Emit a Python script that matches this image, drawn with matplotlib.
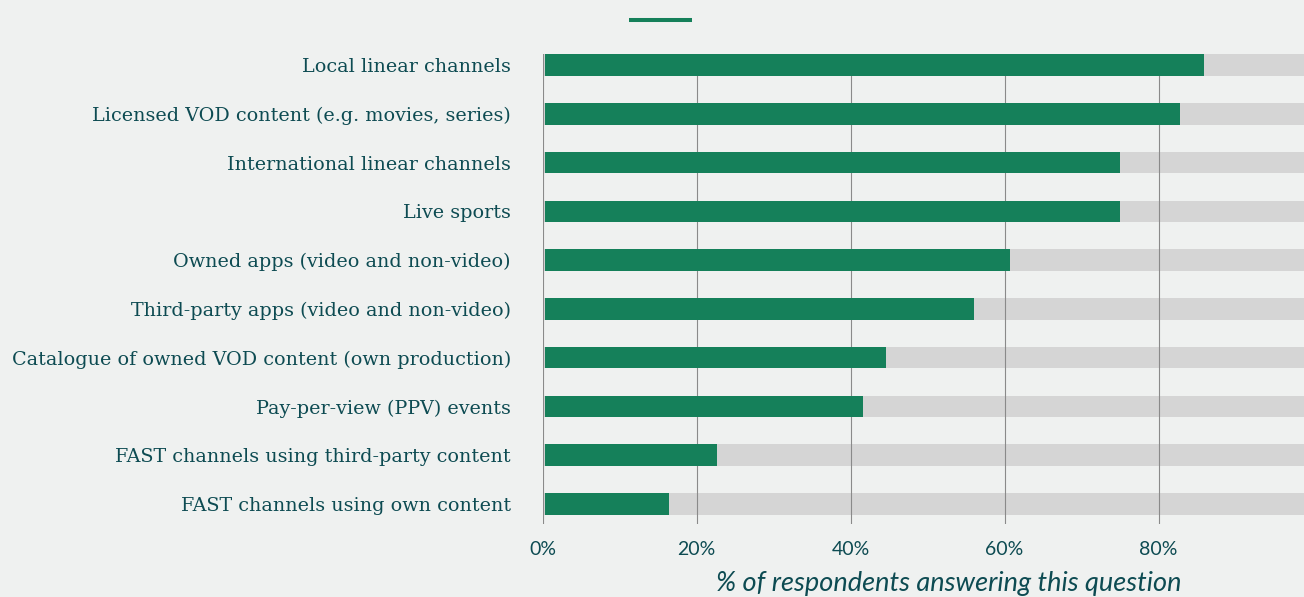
import numpy as np
import matplotlib.pyplot as plt
from matplotlib.lines import Line2D

# survey answers, top to bottom
categories = [
    "Local linear channels",
    "Licensed VOD content (e.g. movies, series)",
    "International linear channels",
    "Live sports",
    "Owned apps (video and non-video)",
    "Third-party apps (video and non-video)",
    "Catalogue of owned VOD content (own production)",
    "Pay-per-view (PPV) events",
    "FAST channels using third-party content",
    "FAST channels using own content",
]
share = [85.7, 82.5, 74.8, 74.8, 60.4, 55.8, 44.4, 41.4, 22.4, 16.1]
xticks = [0, 20, 40, 60, 80]
xticklabels = ["0%", "20%", "40%", "60%", "80%"]
xlabel = "% of respondents answering this question"

bg = '#eff1f0'
green = '#15805a'
track = '#d5d5d5'
ink = '#0d4b52'

fig = plt.figure(figsize=(13.04, 5.97), dpi=100)
fig.patch.set_facecolor(bg)
ax = fig.add_axes([0.4162, 0.1223, 0.5838, 0.7872])
ax.set_facecolor(bg)

y = np.arange(len(categories))
h = 0.44
# grey track to 100%, grid on top of it, green bars over the grid
ax.barh(y, [100] * len(y), height=h, color=track, zorder=1)
for xv in xticks:
    ax.axvline(xv, color='#8a8a8a', lw=0.8, zorder=2)
ax.barh(y, share, height=h, left=0.25, color=green, zorder=3)

ax.set_xlim(0, 98.9)
ax.set_ylim(9.41, -0.225)

ax.set_yticks(y)
ax.set_yticklabels(categories, family='DejaVu Serif', fontsize=13.8, color=ink)
ax.set_xticks(xticks)
ax.set_xticklabels(xticklabels, family='Lato', fontsize=14, color=ink)
ax.tick_params(axis='y', length=0, pad=23)
ax.tick_params(axis='x', length=0, pad=12)
for s in ax.spines.values():
    s.set_visible(False)

fig.text(949 / 1304, 1 - 591 / 597, xlabel, family='Lato', style='italic',
         fontsize=19.5, color=ink, ha='center', va='baseline')

# short legend swatch above the bars
fig.add_artist(Line2D([629 / 1304, 692 / 1304], [1 - 20 / 597, 1 - 20 / 597],
                      color=green, lw=2.9, solid_capstyle='butt'))

fig.savefig('out.png', dpi=100, facecolor=bg)
